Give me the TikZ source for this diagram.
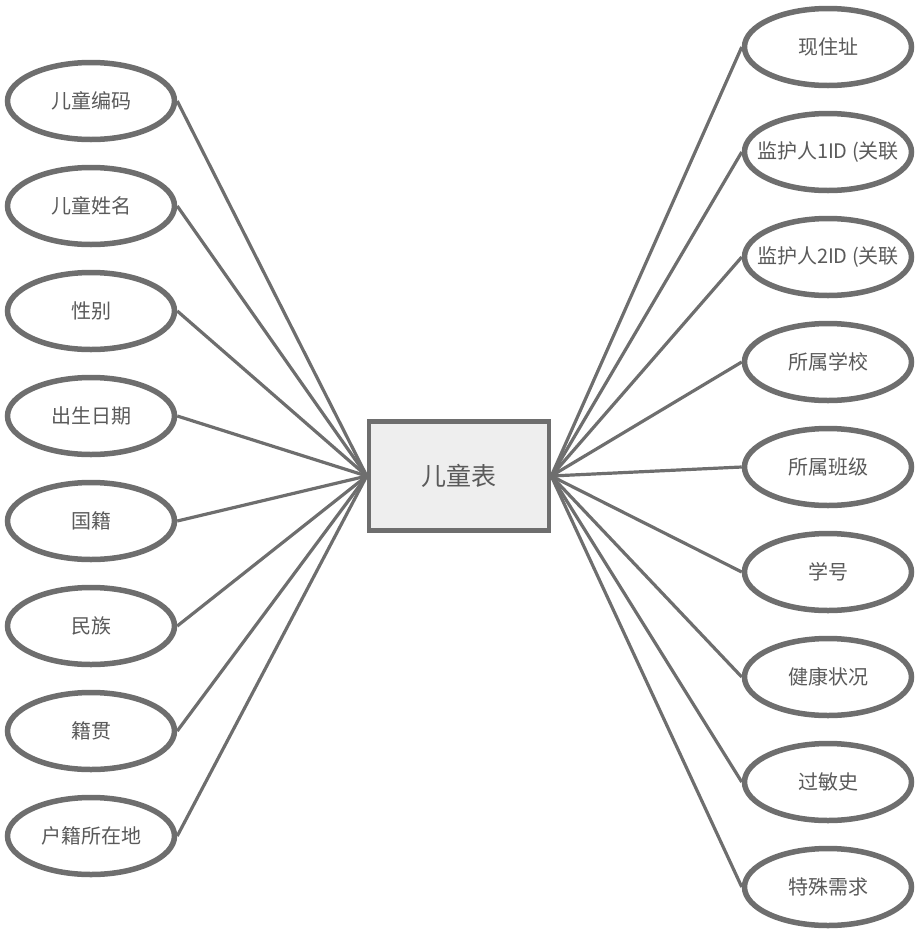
\documentclass[tikz,border=0pt]{standalone}
\usepackage{fontspec}
\setmainfont{Noto Sans CJK SC}
\usetikzlibrary{shapes.geometric}
\definecolor{edge}{HTML}{6E6E6E}
\definecolor{txt}{HTML}{5A5A5A}
\definecolor{boxfill}{HTML}{EEEEEE}

\begin{document}
\begin{tikzpicture}[x=1pt,y=-1pt, attr/.style={ellipse,draw=edge,line width=5.5pt,fill=white,minimum width=167pt,minimum height=77pt,inner sep=0pt,font=\fontsize{20}{22}\selectfont,text=txt}, ent/.style={draw=edge,fill=boxfill,line width=4.5pt,minimum width=180pt,minimum height=109pt,inner sep=0pt,font=\fontsize{25}{27}\selectfont,text=txt}, conn/.style={edge,line width=3.2pt}]
  \useasboundingbox (0,0) rectangle (917,951);
  \node[ent] (tbl) at (459,476) {儿童表};
  \foreach \y/\n/\t in {101/1/儿童编码,206/2/儿童姓名,311/3/性别,416/4/出生日期,521/5/国籍,626/6/民族,731/7/籍贯,836/8/户籍所在地}{
    \node[attr] (l\n) at (91,\y) {\makebox[0pt]{\t}};
    \draw[conn] (tbl.west) -- (l\n.east);}
  \foreach \y/\n/\t in {47/1/现住址,152/2/监护人1ID (关联,257/3/监护人2ID (关联,362/4/所属学校,467/5/所属班级,572/6/学号,677/7/健康状况,782/8/过敏史,887/9/特殊需求}{
    \node[attr] (r\n) at (828,\y) {\makebox[0pt]{\t}};
    \draw[conn] (tbl.east) -- (r\n.west);}
\end{tikzpicture}
\end{document}
